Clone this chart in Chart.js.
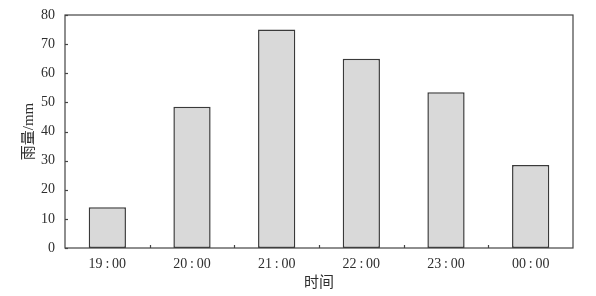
<!DOCTYPE html>
<html>
<head>
<meta charset="utf-8">
<script src="https://cdn.jsdelivr.net/npm/chart.js@4/dist/chart.umd.min.js"></script>
<style>
  html, body { margin: 0; padding: 0; background: #fff; }
  #wrap { width: 596px; height: 296px; }
</style>
</head>
<body>
<div id="wrap"><canvas id="rainChart"></canvas></div>
<script>
// Data
const hours = ['19\u2009:\u200900', '20\u2009:\u200900', '21\u2009:\u200900', '22\u2009:\u200900', '23\u2009:\u200900', '00\u2009:\u200900'];
const rainfall = [14, 48.5, 75, 65, 53.5, 28.5];
const yTicks = [0, 10, 20, 30, 40, 50, 60, 70, 80];

const serif = '"Liberation Serif", "Times New Roman", "Noto Sans CJK SC", serif';
const inkColor = '#2e2e2e';

// Frame around the plot area plus small inward ticks
const framePlugin = {
  id: 'frame',
  afterDraw(chart) {
    const ctx = chart.ctx;
    const area = chart.chartArea;
    const x = chart.scales.x;
    const y = chart.scales.y;
    ctx.save();
    ctx.strokeStyle = '#444';
    ctx.lineWidth = 1.2;
    ctx.strokeRect(area.left, area.top, area.right - area.left, area.bottom - area.top);

    // y ticks, pointing right into the plot
    yTicks.forEach(v => {
      const py = Math.round(y.getPixelForValue(v)) + 0.5;
      ctx.beginPath();
      ctx.moveTo(area.left, py);
      ctx.lineTo(area.left + 3, py);
      ctx.stroke();
    });

    // x ticks between categories, pointing up
    for (let i = 0; i < hours.length - 1; i++) {
      const px = Math.round((x.getPixelForValue(i) + x.getPixelForValue(i + 1)) / 2) + 0.5;
      ctx.beginPath();
      ctx.moveTo(px, area.bottom);
      ctx.lineTo(px, area.bottom - 3);
      ctx.stroke();
    }
    ctx.restore();
  }
};

const ctx = document.getElementById('rainChart').getContext('2d');
new Chart(ctx, {
  type: 'bar',
  data: {
    labels: hours,
    datasets: [{
      label: '雨量',
      data: rainfall,
      backgroundColor: '#d9d9d9',
      borderColor: '#3a3a3a',
      borderWidth: 1.5,
      borderSkipped: false,
      categoryPercentage: 1.0,
      barPercentage: 0.44
    }]
  },
  options: {
    responsive: true,
    maintainAspectRatio: false,
    animation: false,
    layout: {
      padding: { left: 0, right: 23, top: 15, bottom: 0 }
    },
    plugins: {
      legend: { display: false },
      tooltip: { enabled: false }
    },
    scales: {
      x: {
        grid: { display: false },
        border: { display: false },
        ticks: {
          color: inkColor,
          font: { family: serif, size: 14 },
          padding: 0
        },
        title: {
          display: true,
          text: '时间',
          color: inkColor,
          font: { family: serif, size: 15 },
          padding: { top: 0, bottom: 4 }
        },
        afterFit(scale) { scale.height = 48; }
      },
      y: {
        min: 0,
        max: 80,
        grid: { display: false },
        border: { display: false },
        afterBuildTicks(scale) {
          scale.ticks = yTicks.map(v => ({ value: v }));
        },
        ticks: {
          color: inkColor,
          font: { family: serif, size: 14 },
          padding: 2
        },
        title: {
          display: true,
          text: '雨量/mm',
          color: inkColor,
          font: { family: serif, size: 15 },
          padding: { top: 20, bottom: 0 }
        },
        afterFit(scale) { scale.width = 65; }
      }
    }
  },
  plugins: [framePlugin]
});
</script>
</body>
</html>
